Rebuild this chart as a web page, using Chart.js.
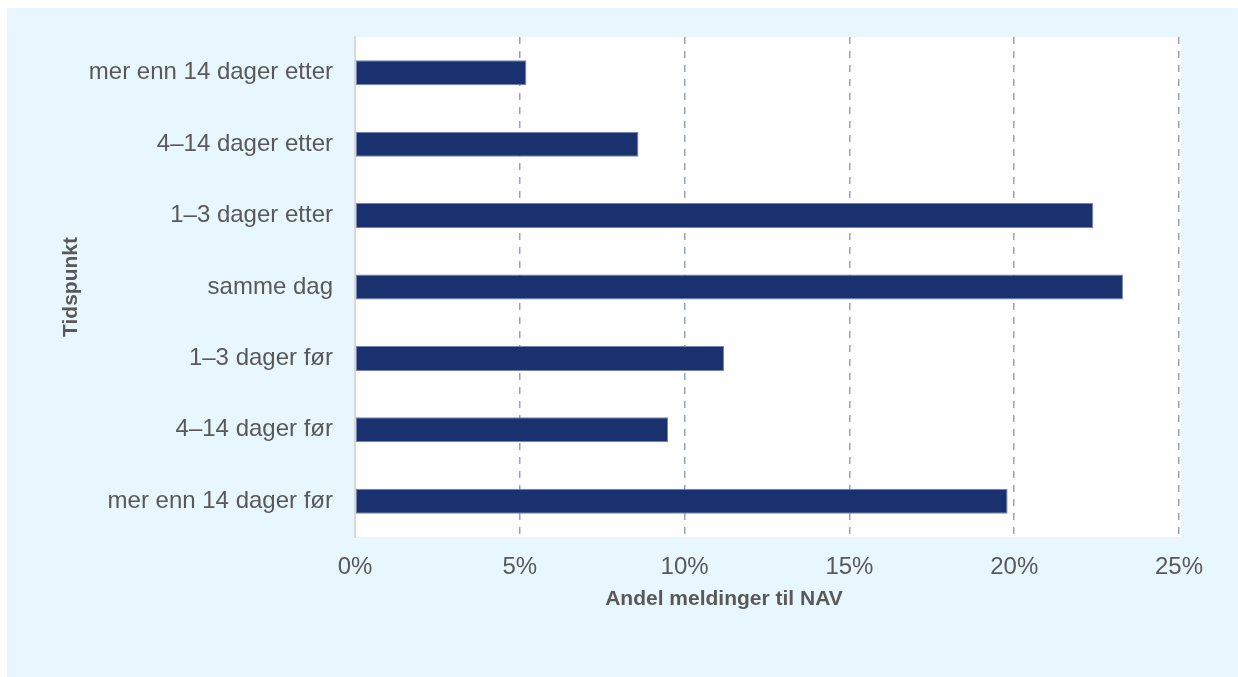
<!DOCTYPE html>
<html lang="no">
<head>
<meta charset="utf-8">
<title>Andel meldinger til NAV etter tidspunkt</title>
<script src="https://cdn.jsdelivr.net/npm/chart.js@4"></script>
<style>
    html, body { margin: 0; padding: 0; background: #ffffff; }
    .panel {
        position: absolute;
        left: 7px;
        top: 8px;
        width: 1231px;
        height: 669px;
        background: #e8f6fe;
    }
    #tidspunkt-chart { display: block; }
</style>
</head>
<body>
<div class="panel">
    <canvas id="tidspunkt-chart" width="1231" height="669"></canvas>
</div>
<script>
// Kategorier (ovenfra og ned) og andel meldinger i prosent
const categories = [
    'mer enn 14 dager etter',
    '4–14 dager etter',
    '1–3 dager etter',
    'samme dag',
    '1–3 dager før',
    '4–14 dager før',
    'mer enn 14 dager før'
];
const shares = [5.2, 8.6, 22.4, 23.3, 11.2, 9.5, 19.8];
const xTicks = [0, 5, 10, 15, 20, 25];

const xTitle = 'Andel meldinger til NAV';
const yTitle = 'Tidspunkt';

const textColor = '#595959';
const barColor = '#19326f';
const gridColor = '#95a1c3';

// white plot area behind the bars
const plotBackground = {
    id: 'plotBackground',
    beforeDraw(chart) {
        const { ctx, chartArea } = chart;
        ctx.save();
        ctx.fillStyle = '#ffffff';
        ctx.fillRect(chartArea.left, chartArea.top, chartArea.right - chartArea.left + 2, chartArea.bottom - chartArea.top);
        ctx.restore();
    }
};

// x axis title sits a bit left of the plot centre
const xAxisTitle = {
    id: 'xAxisTitle',
    afterDraw(chart) {
        const { ctx, chartArea } = chart;
        ctx.save();
        ctx.font = 'bold 21px "Liberation Sans", Arial, sans-serif';
        ctx.fillStyle = textColor;
        ctx.textAlign = 'center';
        ctx.textBaseline = 'middle';
        ctx.fillText(xTitle, (chartArea.left + chartArea.right) / 2 - 43, 591);
        ctx.restore();
    }
};

const canvas = document.getElementById('tidspunkt-chart');

new Chart(canvas.getContext('2d'), {
    type: 'bar',
    data: {
        labels: categories,
        datasets: [{
            label: xTitle,
            data: shares,
            backgroundColor: barColor,
            borderColor: '#7384ad',
            borderWidth: 1,
            borderSkipped: false,
            barPercentage: 0.35,
            categoryPercentage: 1
        }]
    },
    options: {
        responsive: false,
        animation: false,
        indexAxis: 'y',
        layout: {
            padding: { top: 29, right: 59, bottom: 0, left: 0 }
        },
        scales: {
            x: {
                min: 0,
                max: 25,
                afterBuildTicks: (scale) => {
                    scale.ticks = xTicks.map(v => ({ value: v }));
                },
                afterFit: (scale) => { scale.height = 140; },
                // dashed vertical grid lines
                border: { display: false, dash: [7, 7] },
                grid: {
                    drawTicks: false,
                    lineWidth: 1.5,
                    borderDash: [7, 7],
                    color: (c) => c.tick && c.tick.value === 0 ? 'rgba(0,0,0,0)' : gridColor
                },
                ticks: {
                    padding: 16,
                    color: textColor,
                    font: { family: '"Liberation Sans", Arial, sans-serif', size: 24 },
                    callback: (v) => v + '%'
                }
            },
            y: {
                afterFit: (scale) => {
                    scale.width = 348;
                    // keep label height from pushing the plot area down
                    scale.paddingTop = 0;
                    scale.paddingBottom = 0;
                },
                border: { display: true, color: '#d9d9d9', width: 2 },
                grid: { display: false, drawTicks: false },
                ticks: {
                    padding: 22,
                    color: textColor,
                    font: { family: '"Liberation Sans", Arial, sans-serif', size: 24 }
                },
                title: {
                    display: true,
                    text: yTitle,
                    color: textColor,
                    padding: { top: 52, bottom: 0 },
                    font: { family: '"Liberation Sans", Arial, sans-serif', size: 21, weight: 'bold' }
                }
            }
        },
        plugins: {
            legend: { display: false },
            tooltip: { enabled: false }
        }
    },
    plugins: [plotBackground, xAxisTitle]
});
</script>
</body>
</html>
